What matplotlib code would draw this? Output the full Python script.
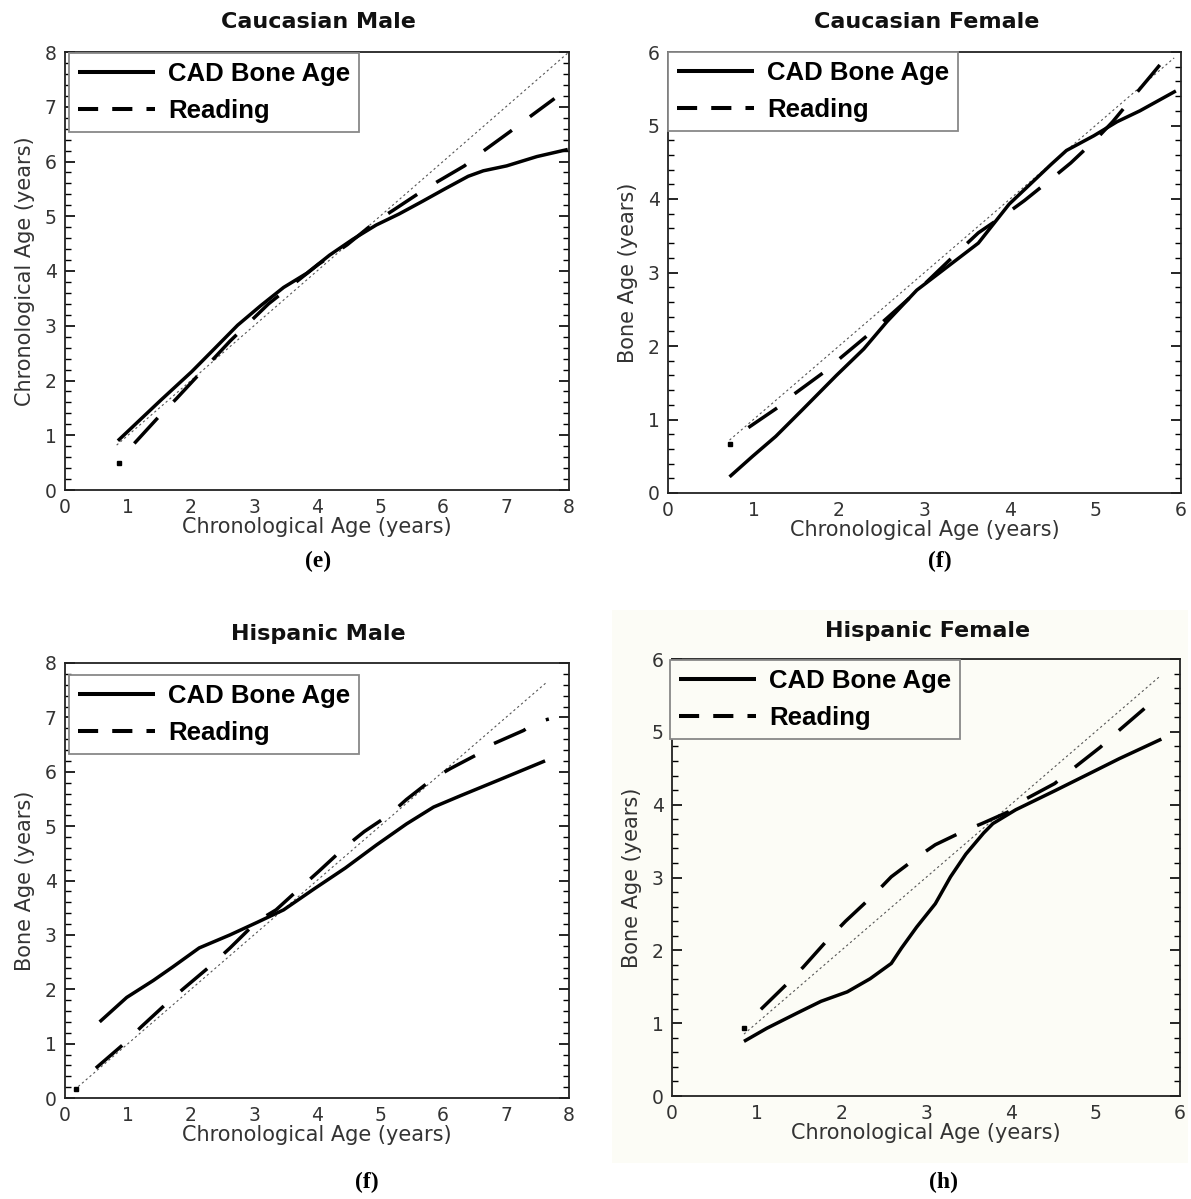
import matplotlib
matplotlib.use("Agg")
import matplotlib.pyplot as plt
from matplotlib.lines import Line2D
from matplotlib.patches import Rectangle

W, H = 1191, 1199

# ---- data: (chronological age, value) ----
cm_cad_x = [0.84, 1.52, 2.01, 2.38, 2.74, 3.11, 3.47, 3.84, 4.20, 4.57, 4.94, 5.30, 5.67, 6.03, 6.40, 6.64, 7.01, 7.49, 7.98]
cm_cad_y = [0.90, 1.64, 2.16, 2.59, 3.01, 3.37, 3.70, 3.96, 4.29, 4.58, 4.84, 5.04, 5.27, 5.50, 5.73, 5.83, 5.92, 6.09, 6.22]
cm_read_x = [1.10, 1.49, 1.77, 2.19, 2.62, 3.23, 4.02, 4.48, 4.94, 5.21, 5.63, 5.91, 6.34, 6.64, 7.07, 7.37, 7.77]
cm_read_y = [0.85, 1.34, 1.67, 2.19, 2.72, 3.40, 4.12, 4.48, 4.91, 5.11, 5.43, 5.63, 5.92, 6.19, 6.55, 6.81, 7.15]
cm_read_start = (0.85, 0.49)
cm_ident = (0.82, 7.98)

cf_cad_x = [0.72, 0.99, 1.26, 1.57, 1.97, 2.29, 2.56, 2.91, 3.27, 3.63, 3.99, 4.48, 4.66, 4.98, 5.25, 5.52, 5.94]
cf_cad_y = [0.22, 0.50, 0.77, 1.13, 1.60, 1.96, 2.33, 2.76, 3.08, 3.40, 3.93, 4.47, 4.66, 4.86, 5.05, 5.20, 5.47]
cf_read_x = [0.94, 1.28, 1.48, 1.82, 2.02, 2.35, 2.89, 3.41, 3.63, 3.97, 4.17, 4.48, 4.71, 5.02, 5.20, 5.47, 5.65, 5.87]
cf_read_y = [0.89, 1.16, 1.35, 1.64, 1.84, 2.16, 2.72, 3.30, 3.54, 3.81, 3.98, 4.27, 4.49, 4.83, 5.05, 5.43, 5.68, 5.99]
cf_read_start = (0.72, 0.67)
cf_ident = (0.72, 5.92)

hm_cad_x = [0.55, 0.98, 1.40, 1.71, 2.13, 2.62, 3.05, 3.47, 3.96, 4.45, 4.94, 5.42, 5.85, 6.28, 6.89, 7.62]
hm_cad_y = [1.40, 1.85, 2.16, 2.41, 2.76, 3.00, 3.23, 3.46, 3.85, 4.23, 4.65, 5.04, 5.35, 5.56, 5.85, 6.20]
hm_read_x = [0.49, 0.91, 1.22, 1.65, 1.89, 2.32, 2.62, 3.05, 3.35, 3.72, 4.02, 4.45, 4.75, 5.15, 5.42, 5.85, 6.12, 6.58, 6.79, 7.28, 7.46, 7.68]
hm_read_y = [0.55, 0.97, 1.32, 1.78, 2.02, 2.44, 2.76, 3.25, 3.46, 3.85, 4.16, 4.62, 4.90, 5.21, 5.49, 5.88, 6.06, 6.34, 6.51, 6.76, 6.90, 6.97]
hm_read_start = (0.18, 0.16)
hm_ident = (0.15, 7.65)

hf_cad_x = [0.85, 1.12, 1.48, 1.76, 2.07, 2.34, 2.59, 2.71, 2.89, 3.11, 3.29, 3.47, 3.68, 3.79, 4.06, 4.52, 4.97, 5.28, 5.78]
hf_cad_y = [0.75, 0.93, 1.14, 1.30, 1.43, 1.61, 1.82, 2.03, 2.32, 2.64, 3.01, 3.32, 3.61, 3.74, 3.93, 4.19, 4.45, 4.63, 4.90]
hf_read_x = [1.05, 1.35, 1.55, 1.85, 2.05, 2.39, 2.59, 2.91, 3.11, 3.45, 3.66, 3.97, 4.15, 4.52, 4.72, 5.06, 5.26, 5.58]
hf_read_y = [1.19, 1.53, 1.77, 2.16, 2.40, 2.77, 3.01, 3.29, 3.45, 3.64, 3.74, 3.90, 4.06, 4.29, 4.48, 4.79, 5.00, 5.32]
hf_read_start = (0.85, 0.93)
hf_ident = (0.85, 5.76)

titles = ["Caucasian Male", "Caucasian Female", "Hispanic Male", "Hispanic Female"]
ylabels = ["Chronological Age (years)", "Bone Age (years)", "Bone Age (years)", "Bone Age (years)"]
xlabel = "Chronological Age (years)"
captions = ["(e)", "(f)", "(f)", "(h)"]
xmaxes = [8, 6, 8, 6]
legend_labels = ["CAD Bone Age", "Reading"]

panels = [
    (cm_cad_x, cm_cad_y, cm_read_x, cm_read_y, cm_read_start, cm_ident),
    (cf_cad_x, cf_cad_y, cf_read_x, cf_read_y, cf_read_start, cf_ident),
    (hm_cad_x, hm_cad_y, hm_read_x, hm_read_y, hm_read_start, hm_ident),
    (hf_cad_x, hf_cad_y, hf_read_x, hf_read_y, hf_read_start, hf_ident),
]

# ---- layout in pixels: left, top, right, bottom ----
boxes = [(65, 52, 569, 490), (668, 52, 1181, 493), (65, 663, 569, 1098), (672, 659, 1180, 1096)]
legend_boxes = [(69, 53, 365, 133), (668, 52, 968, 134), (69, 675, 355, 756), (670, 660, 968, 743)]
title_pos = [(318, 22), (927, 22), (318, 634), (928, 631)]
caption_pos = [(318, 561), (940, 561), (367, 1182), (943, 1182)]

CREAM = "#fcfcf6"
TXT = "#333333"
LW = 2.5
DASH = (0, (10, 6.5))

fig = plt.figure(figsize=(W / 100, H / 100), dpi=100)
fig.patch.set_facecolor("white")
fig.patches.append(Rectangle((612 / W, 1 - 1163 / H), (1188 - 612) / W, (1163 - 610) / H,
                             transform=fig.transFigure, facecolor=CREAM, edgecolor="none", zorder=-10))

for i, (cx, cy, rx, ry, rstart, ident) in enumerate(panels):
    l, t, r, b = boxes[i]
    ax = fig.add_axes([l / W, 1 - b / H, (r - l) / W, (b - t) / H])
    if i == 3:
        ax.set_facecolor(CREAM)
    xm = xmaxes[i]
    ax.set_xlim(0, xm)
    ax.set_ylim(0, xm)

    ax.plot(ident, ident, color="#555555", lw=0.8, linestyle=(0, (2, 2.5)), zorder=1)
    ax.plot(cx, cy, color="black", lw=LW, solid_capstyle="butt", zorder=3)
    ax.plot(rx, ry, color="black", lw=LW, linestyle=DASH, dash_capstyle="butt", zorder=3)
    ax.plot([rstart[0]], [rstart[1]], marker="s", ms=3.4, color="black", zorder=3)

    for s in ax.spines.values():
        s.set_linewidth(1.3)
        s.set_color("#222222")

    ax.set_xticks(range(0, xm + 1))
    ax.set_yticks(range(0, xm + 1))
    ax.set_yticks([k * 0.2 for k in range(0, xm * 5 + 1) if k % 5], minor=True)
    ax.tick_params(axis="x", which="both", length=0, pad=6, labelsize=13.5, labelcolor=TXT)
    ax.tick_params(axis="y", which="major", direction="in", length=7, width=1.2,
                   left=True, right=True, pad=6, labelsize=13.5, labelcolor=TXT)
    ax.tick_params(axis="y", which="minor", direction="in", length=4, width=1.0,
                   left=True, right=True)

    ax.set_xlabel(xlabel, fontsize=15, color=TXT, labelpad=0)
    ax.set_ylabel(ylabels[i], fontsize=15, color=TXT, labelpad=7)

    # legend anchored to its box
    ll, lt, lr, lb = legend_boxes[i]
    handles = [
        Line2D([], [], color="black", lw=2.9, solid_capstyle="butt"),
        Line2D([], [], color="black", lw=2.9, linestyle=(0, (5, 3.5)), dash_capstyle="butt"),
    ]
    leg = ax.legend(handles, legend_labels, loc="upper left",
                    bbox_to_anchor=((ll - l) / (r - l), 1 - (lt - t) / (b - t)),
                    borderaxespad=0, fancybox=False, framealpha=1,
                    prop={"family": "Liberation Sans", "weight": "bold", "size": 18.5},
                    handlelength=3.0, handletextpad=0.5, labelspacing=0.5,
                    borderpad=0.35)
    fr = leg.get_frame()
    fr.set_edgecolor("#888888")
    fr.set_linewidth(1.3)
    fr.set_facecolor("white" if i != 3 else CREAM)

    tx, ty = title_pos[i]
    fig.text(tx / W, 1 - ty / H, titles[i], ha="center", va="center",
             fontsize=16, fontweight="bold", family="DejaVu Sans", color="#111111")
    cx_, cy_ = caption_pos[i]
    fig.text(cx_ / W, 1 - cy_ / H, captions[i], ha="center", va="center",
             fontsize=17, fontweight="bold", family="Liberation Serif", color="black")

fig.savefig("out.png", dpi=100)
